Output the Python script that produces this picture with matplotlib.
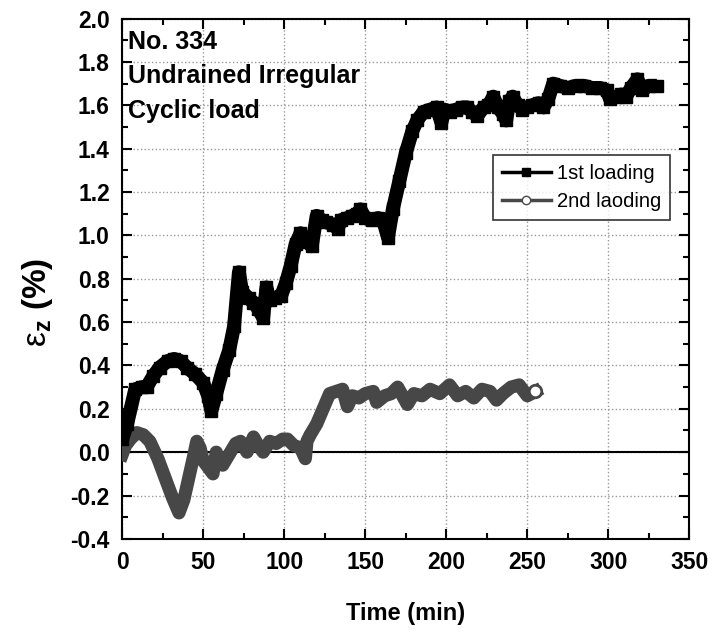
import matplotlib
matplotlib.use('Agg')
import matplotlib.pyplot as plt
from matplotlib.lines import Line2D
from matplotlib.ticker import MultipleLocator, FormatStrFormatter

plt.rcParams['font.family'] = ['Liberation Sans', 'DejaVu Sans']
plt.rcParams['axes.unicode_minus'] = False
plt.rcParams['mathtext.fontset'] = 'custom'
plt.rcParams['mathtext.rm'] = 'Liberation Sans'
plt.rcParams['mathtext.bf'] = 'Liberation Sans:bold'
plt.rcParams['mathtext.it'] = 'Liberation Sans:italic'

# 1st loading
t1 = [0, 3, 8, 12, 15, 19, 23, 28, 32, 36, 40, 45, 50, 53, 55, 58, 62, 66, 69, 72, 74, 78, 81, 84, 87,
      89, 91, 94, 98, 101, 104, 107, 110, 114, 117, 120, 123, 126, 130, 133, 135, 139, 142, 145, 147,
      150, 154, 158, 161, 164, 167, 171, 175, 179, 182, 186, 190, 194, 197, 199, 202, 206, 210, 213,
      216, 219, 223, 226, 229, 232, 235, 237, 239, 241, 244, 247, 250, 253, 257, 260, 263, 266, 270,
      275, 280, 285, 290, 295, 299, 301, 305, 308, 311, 314, 318, 321, 325, 330]
y1 = [0.06, 0.13, 0.29, 0.30, 0.30, 0.35, 0.39, 0.42, 0.43, 0.42, 0.39, 0.36, 0.32, 0.26, 0.19, 0.27,
      0.38, 0.47, 0.58, 0.83, 0.74, 0.71, 0.69, 0.66, 0.62, 0.76, 0.70, 0.71, 0.72, 0.78, 0.86, 0.96,
      1.01, 0.97, 0.95, 1.09, 1.07, 1.06, 1.05, 1.03, 1.07, 1.08, 1.09, 1.10, 1.12, 1.08, 1.07, 1.08,
      1.07, 0.99, 1.12, 1.25, 1.38, 1.48, 1.53, 1.57, 1.58, 1.59, 1.52, 1.58, 1.57, 1.58, 1.59, 1.59,
      1.57, 1.55, 1.59, 1.60, 1.64, 1.59, 1.56, 1.53, 1.62, 1.64, 1.60, 1.58, 1.59, 1.60, 1.61, 1.59,
      1.63, 1.70, 1.69, 1.68, 1.69, 1.69, 1.68, 1.68, 1.67, 1.63, 1.64, 1.65, 1.64, 1.68, 1.72, 1.67,
      1.69, 1.69]

# 2nd loading
t2 = [0, 2, 5, 9, 13, 17, 22, 27, 31, 35, 38, 41, 44, 46, 48, 50, 53, 56, 58, 60, 62, 66, 70, 73,
      77, 81, 84, 87, 91, 95, 99, 102, 106, 110, 113, 114, 116, 120, 124, 128, 132, 136, 139, 142,
      146, 150, 155, 157, 162, 166, 170, 176, 180, 185, 190, 196, 202, 207, 212, 217, 222, 227, 231,
      235, 240, 245, 250, 255]
y2 = [-0.01, 0.03, 0.06, 0.09, 0.08, 0.05, -0.03, -0.13, -0.21, -0.28, -0.22, -0.12, -0.02, 0.05,
      0.02, -0.04, -0.07, -0.10, 0.00, -0.04, -0.06, -0.01, 0.04, 0.05, 0.00, 0.07, 0.03, 0.00, 0.05,
      0.04, 0.06, 0.06, 0.03, 0.02, -0.03, 0.05, 0.08, 0.13, 0.20, 0.27, 0.28, 0.29, 0.21, 0.26,
      0.25, 0.27, 0.28, 0.23, 0.26, 0.27, 0.30, 0.22, 0.27, 0.26, 0.29, 0.27, 0.31, 0.26, 0.28, 0.25,
      0.29, 0.28, 0.24, 0.27, 0.30, 0.31, 0.26, 0.28]

fig = plt.figure(figsize=(7.15, 6.4), dpi=100)
ax = fig.add_axes([0.171, 0.158, 0.793, 0.813])

gray = '#474747'
ax.axhline(0, color='black', lw=1.5, zorder=2)
ax.plot(t1, y1, color='black', lw=10, marker='s', ms=8, solid_joinstyle='round',
        solid_capstyle='butt', zorder=4)
ax.plot(t2, y2, color=gray, lw=9.5, solid_joinstyle='round', zorder=3)
ax.plot(t2[-1], y2[-1], 'o', ms=9, mfc='white', mec=gray, mew=2, zorder=5)

ax.set_xlim(0, 350)
ax.set_ylim(-0.4, 2.0)
ax.xaxis.set_major_locator(MultipleLocator(50))
ax.xaxis.set_minor_locator(MultipleLocator(25))
ax.yaxis.set_major_locator(MultipleLocator(0.2))
ax.yaxis.set_minor_locator(MultipleLocator(0.1))
ax.yaxis.set_major_formatter(FormatStrFormatter('%.1f'))
ax.grid(True, which='major', color='#999999', linestyle=':', lw=1)
ax.set_axisbelow(True)

ax.tick_params(which='both', direction='in', top=True, right=True, width=1.5)
ax.tick_params(which='major', length=7, labelsize=16.5, pad=9)
ax.tick_params(which='minor', length=4)
for lab in ax.get_xticklabels() + ax.get_yticklabels():
    lab.set_fontweight('bold')
for s in ax.spines.values():
    s.set_linewidth(1.5)

ax.set_xlabel('Time (min)', fontsize=17, fontweight='bold', labelpad=20)
ax.set_ylabel(r'$\mathrm{\varepsilon}_{\mathbf{z}}$ (%)', fontsize=24, fontweight='bold')
ax.yaxis.set_label_coords(-0.118, 0.454)

ax.text(0.01, 0.978, 'No. 334\nUndrained Irregular\nCyclic load', transform=ax.transAxes,
        fontsize=18, fontweight='bold', va='top', ha='left', linespacing=1.55)

handles = [Line2D([], [], color='black', lw=2.5, marker='s', ms=6),
           Line2D([], [], color=gray, lw=2.5, marker='o', ms=6, mfc='white', mec=gray)]
leg = ax.legend(handles, ['1st loading', '2nd laoding'], loc='upper right',
                bbox_to_anchor=(0.966, 0.738), fontsize=14.5, frameon=True, fancybox=False,
                edgecolor='black', handlelength=2.4, handletextpad=0.3, borderpad=0.45,
                labelspacing=0.45, borderaxespad=0)
leg.get_frame().set_linewidth(1.2)

fig.savefig('out.png', dpi=100)
